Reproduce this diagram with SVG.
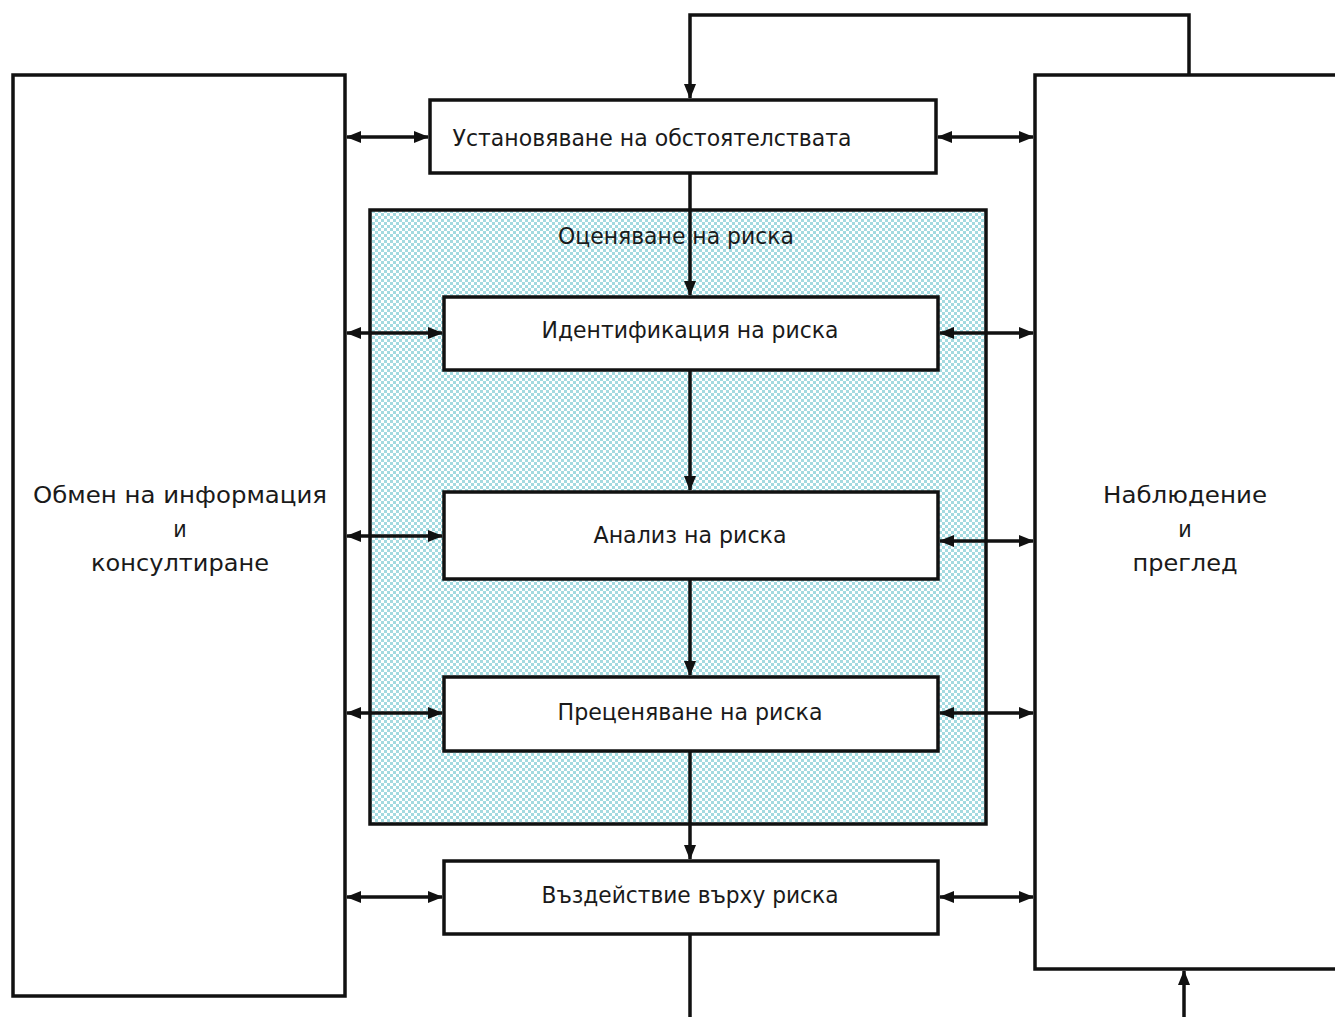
<svg xmlns="http://www.w3.org/2000/svg" width="1335" height="1017" viewBox="0 0 1335 1017">
<defs>
<pattern id="chk" width="6" height="6" patternUnits="userSpaceOnUse">
<rect width="6" height="6" fill="#ffffff"/>
<rect x="0" y="0" width="3" height="3" fill="#a3dae0"/>
<rect x="3" y="3" width="3" height="3" fill="#a3dae0"/>
</pattern>
<marker id="ah" markerWidth="15" markerHeight="14" refX="14" refY="7" orient="auto-start-reverse" markerUnits="userSpaceOnUse">
<path d="M0,1 L15,7 L0,13 Z" fill="#111"/>
</marker>
</defs>
<style>
.box{fill:#fff;stroke:#111;stroke-width:3.5}
.t{font-family:"DejaVu Sans Condensed",Tahoma,"DejaVu Sans",sans-serif;font-size:23px;fill:#1a1a1a;text-anchor:middle}
.c{fill:none;stroke:#111;stroke-width:3.5}
</style>
<rect width="1335" height="1017" fill="#fff"/>
<g id="left">
<rect class="box" x="13" y="75" width="332" height="921"/>
<text class="t" x="180" y="503" textLength="294" lengthAdjust="spacingAndGlyphs">Обмен на информация</text>
<text class="t" x="180" y="537">и</text>
<text class="t" x="180" y="571" textLength="178" lengthAdjust="spacingAndGlyphs">консултиране</text>
</g>
<g id="right">
<rect class="box" x="1035" y="75" width="310" height="894"/>
<text class="t" x="1185" y="503" textLength="164" lengthAdjust="spacingAndGlyphs">Наблюдение</text>
<text class="t" x="1185" y="537">и</text>
<text class="t" x="1185" y="571" textLength="105" lengthAdjust="spacingAndGlyphs">преглед</text>
</g>
<g id="context">
<rect class="box" x="430" y="100" width="506" height="73"/>
<text class="t" x="652" y="146" textLength="399" lengthAdjust="spacingAndGlyphs">Установяване на обстоятелствата</text>
</g>
<g id="assessment">
<rect x="370" y="210" width="616" height="614" fill="url(#chk)" stroke="#111" stroke-width="3.5"/>
<text class="t" x="676" y="244" textLength="236" lengthAdjust="spacingAndGlyphs">Оценяване на риска</text>
</g>
<g id="identify">
<rect class="box" x="444" y="297" width="494" height="73"/>
<text class="t" x="690" y="338" textLength="297" lengthAdjust="spacingAndGlyphs">Идентификация на риска</text>
</g>
<g id="analysis">
<rect class="box" x="444" y="492" width="494" height="87"/>
<text class="t" x="690" y="543" textLength="193" lengthAdjust="spacingAndGlyphs">Анализ на риска</text>
</g>
<g id="evaluation">
<rect class="box" x="444" y="677" width="494" height="74"/>
<text class="t" x="690" y="720" textLength="265" lengthAdjust="spacingAndGlyphs">Преценяване на риска</text>
</g>
<g id="treatment">
<rect class="box" x="444" y="861" width="494" height="73"/>
<text class="t" x="690" y="903" textLength="297" lengthAdjust="spacingAndGlyphs">Въздействие върху риска</text>
</g>
<g id="connectors">
<path class="c" d="M1189,75 V15 H690 V98" marker-end="url(#ah)"/>
<path class="c" d="M690,173 V295" marker-end="url(#ah)"/>
<path class="c" d="M690,370 V490" marker-end="url(#ah)"/>
<path class="c" d="M690,579 V675" marker-end="url(#ah)"/>
<path class="c" d="M690,751 V859" marker-end="url(#ah)"/>
<path class="c" d="M690,934 V1017"/>
<path class="c" d="M1184,1017 V971" marker-end="url(#ah)"/>
<path class="c" d="M347,137 H428" marker-start="url(#ah)" marker-end="url(#ah)"/>
<path class="c" d="M938,137 H1033" marker-start="url(#ah)" marker-end="url(#ah)"/>
<path class="c" d="M347,333 H442" marker-start="url(#ah)" marker-end="url(#ah)"/>
<path class="c" d="M940,333 H1033" marker-start="url(#ah)" marker-end="url(#ah)"/>
<path class="c" d="M347,536 H442" marker-start="url(#ah)" marker-end="url(#ah)"/>
<path class="c" d="M940,541 H1033" marker-start="url(#ah)" marker-end="url(#ah)"/>
<path class="c" d="M347,713 H442" marker-start="url(#ah)" marker-end="url(#ah)"/>
<path class="c" d="M940,713 H1033" marker-start="url(#ah)" marker-end="url(#ah)"/>
<path class="c" d="M347,897 H442" marker-start="url(#ah)" marker-end="url(#ah)"/>
<path class="c" d="M940,897 H1033" marker-start="url(#ah)" marker-end="url(#ah)"/>
</g>
</svg>
